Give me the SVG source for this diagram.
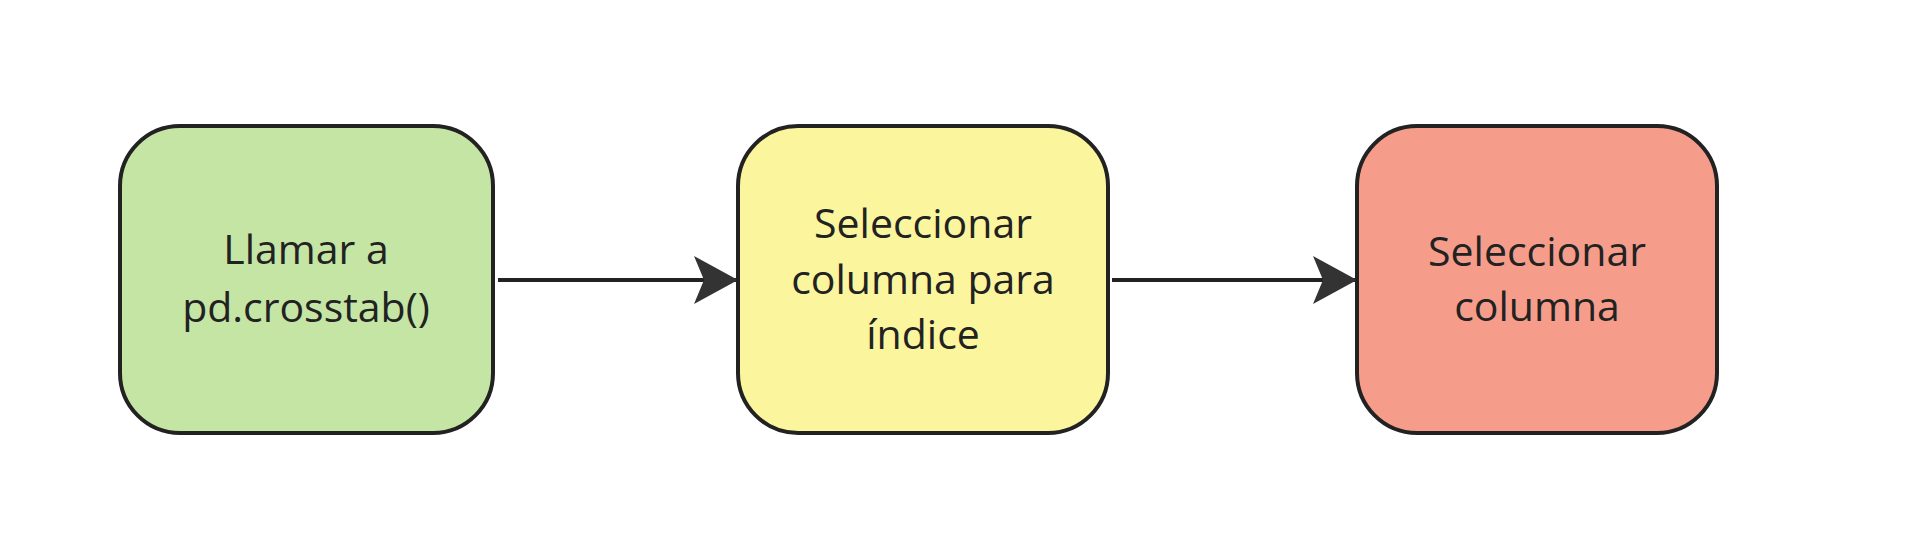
<svg xmlns="http://www.w3.org/2000/svg" width="1912" height="544" viewBox="0 0 1912 544">
<style>
.n{stroke:#222;stroke-width:4}
.t{font-family:"Open Sans","Noto Sans",sans-serif;font-size:41px;fill:#222;text-anchor:middle;dominant-baseline:central}
.c{stroke:#222;stroke-width:4;fill:none}
</style>
<defs><marker id="a" markerWidth="12" markerHeight="12" refX="10" refY="6" orient="auto" markerUnits="userSpaceOnUse"><path d="M0,0 L12,6 L0,12 z" fill="#222"/></marker>
<marker id="ah" viewBox="0 0 44 48" markerWidth="44" markerHeight="48" refX="42" refY="24" orient="auto" markerUnits="userSpaceOnUse"><path d="M0,0 L44,24 L0,48 L10,24 z" fill="#333"/></marker></defs>
<rect width="1912" height="544" fill="#fff"/>
<g id="connectors">
<line class="c" x1="498" y1="280" x2="736" y2="280" marker-end="url(#ah)"/>
<line class="c" x1="1112" y1="280" x2="1355" y2="280" marker-end="url(#ah)"/>
</g>
<g id="n1"><rect class="n" x="120" y="126" width="373" height="307" rx="60" fill="#c5e5a5"/>
<text class="t" x="306" y="248">Llamar a</text><text class="t" x="306" y="306">pd.crosstab()</text></g>
<g id="n2"><rect class="n" x="738" y="126" width="370" height="307" rx="60" fill="#fbf59e"/>
<text class="t" x="923" y="222">Seleccionar</text><text class="t" x="923" y="278">columna para</text><text class="t" x="923" y="333">índice</text></g>
<g id="n3"><rect class="n" x="1357" y="126" width="360" height="307" rx="60" fill="#f59d8a"/>
<text class="t" x="1537" y="250">Seleccionar</text><text class="t" x="1537" y="305">columna</text></g>
</svg>
